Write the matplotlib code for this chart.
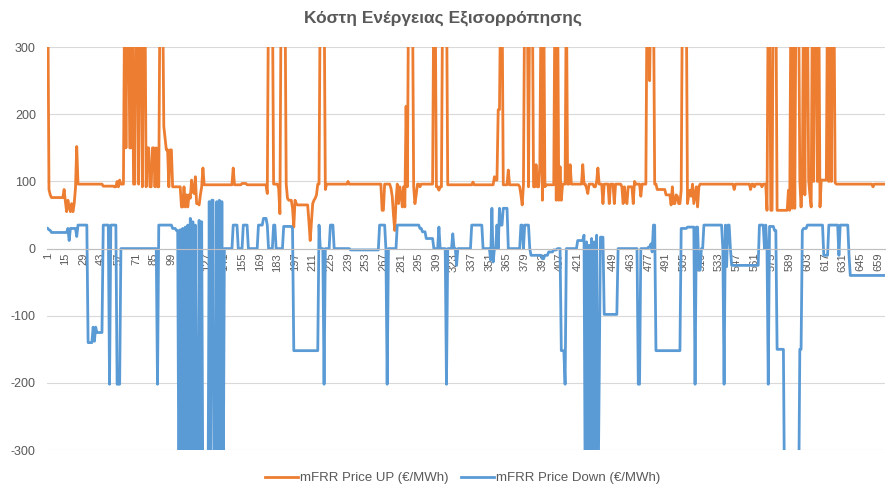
import numpy as np
import matplotlib.pyplot as plt

plt.rcParams['font.family'] = ['Liberation Sans', 'DejaVu Sans']
plt.rcParams['axes.unicode_minus'] = False

N = 664  # quarter-hour slots visible

# mFRR Price UP, run starts (slot index) and values
up_start = [1, 2, 3, 4, 14, 15, 16, 17, 18, 19, 20, 21, 22, 23, 24, 25, 45, 54, 56, 57, 58, 59,
            62, 63, 64, 66, 68, 69,
            71, 73, 74, 76, 77, 79, 80, 82, 84, 86, 87, 88,
            90, 93, 94, 95, 97, 98, 100,
            107, 109, 110, 111, 112, 113, 114, 115, 116, 117, 118, 119, 121, 122, 123, 124, 125,
            148, 149, 155, 159,
            175, 176, 180, 184, 185, 186, 190, 191, 192, 195, 196, 197, 198, 199, 208, 209, 210, 211,
            212, 213, 214, 215, 217, 221, 222, 239, 240,
            266, 268, 273, 274, 275, 276, 277, 278, 279, 280, 281, 282, 283, 284, 285, 286, 287, 291,
            292, 293, 294, 296, 297,
            307, 309, 311, 312, 314, 318, 338, 339,
            355, 356, 358, 360, 362, 366, 367, 375, 376, 377, 378, 379, 382, 383, 386, 388, 389, 391,
            392, 393, 394, 395, 396, 403, 404, 405, 406, 407, 408, 409,
            412, 413, 415, 416, 425, 426, 428, 429, 430, 434, 436, 437, 438, 441, 442, 446, 447, 450,
            451, 456, 457, 458, 459, 460, 461, 465, 466, 467, 471, 472,
            476, 478, 479, 482, 484, 491, 495, 496, 497, 499, 500, 501, 503, 504, 508, 509, 510, 511,
            512, 513, 514, 515, 516, 517, 518,
            545, 546, 558, 559, 561, 562, 567, 568, 571, 572, 574, 576, 579, 588, 589,
            590, 591, 592, 593, 594, 597, 598, 599, 600, 601, 602, 604, 605, 606, 607, 608, 609, 611,
            612, 613, 614, 619, 620, 621, 622, 623, 625, 626, 655, 656]
up_vals = [400, 88, 80, 76, 88, 70, 55, 72, 62, 55, 67, 55, 67, 90, 152, 96, 93, 92, 100, 92, 102, 96,
           400, 150, 400, 150, 400, 96,
           400, 96, 400, 92, 400, 92, 150, 92, 150, 92, 150, 92,
           400, 182, 165, 147, 92, 147, 92,
           62, 92, 62, 80, 62, 80, 75, 102, 85, 82, 107, 67, 65, 80, 92, 120, 95,
           120, 95, 97, 95,
           82, 400, 96, 90, 52, 400, 96, 75, 72, 60, 32, 72, 67, 65, 40, 12, 40, 67,
           72, 75, 80, 96, 400, 88, 96, 100, 96,
           57, 96, 90, 78, 50, 27, 70, 96, 67, 92, 80, 62, 92, 62, 212, 92, 400, 92,
           67, 80, 96, 92, 96,
           400, 92, 87, 92, 400, 95, 99, 95,
           107, 102, 207, 400, 95, 117, 95, 92, 80, 65, 95, 400, 92, 400, 92, 125, 92, 125,
           400, 72, 400, 92, 95, 400, 72, 400, 72, 122, 72, 96,
           400, 96, 125, 96, 125, 96, 90, 82, 96, 92, 100, 120, 96, 67, 96, 67, 96, 67,
           96, 92, 67, 92, 75, 67, 92, 67, 100, 96, 78, 96,
           400, 250, 400, 96, 88, 80, 65, 92, 67, 80, 78, 67, 87, 400, 67, 80, 87, 78,
           96, 67, 80, 92, 62, 92, 96,
           88, 96, 88, 96, 92, 96, 92, 96, 57, 400, 57, 400, 57, 87, 57,
           400, 60, 400, 60, 400, 102, 62, 102, 400, 80, 400, 102, 80, 62, 400, 100, 400, 100,
           400, 62, 102, 400, 100, 400, 100, 400, 98, 96, 92, 96]

# mFRR Price Down, run starts and values
down_start = [1, 2, 3, 4, 17, 18, 19, 24, 25, 33, 37, 38, 39, 40, 45, 50, 51, 56, 59, 88, 89, 100, 103,
              105, 106, 107, 108, 109, 110, 111, 112, 113, 114, 115, 116, 117, 118, 119, 121, 122,
              123, 124, 129, 130, 131, 133, 135, 136, 137, 138, 139, 140,
              141, 148, 152, 156, 160, 168, 172, 175, 176, 180, 182, 188, 195, 196, 216, 217, 220,
              221, 225, 228, 241, 264, 269, 270, 271, 278, 296, 298, 301, 307, 311, 312, 317, 318,
              322, 323, 325, 326, 337, 346, 352, 353, 354, 355, 357, 358, 359, 360, 362, 366, 376,
              378, 379, 383, 384, 393, 395, 398, 402, 405, 408, 411, 412, 421, 426,
              427, 428, 429, 430, 431, 432, 433, 434, 435, 436, 437, 438, 439, 442, 453, 469, 471,
              477, 479, 480, 481, 483, 503, 508, 514, 515, 517, 519, 521, 536, 537, 538, 539, 540,
              542, 543, 565, 569, 570, 571, 572, 573, 577, 579, 585, 597, 599, 600, 603, 616, 620,
              628, 629, 636, 637]
down_vals = [30, 28, 27, 24, 30, 12, 30, 18, 35, -140, -117, -138, -117, -125, 35, -202, 35, -202, 0,
             -202, 35, 30, 27,
             -400, 28, -400, 30, -400, 32, -400, 35, -400, 45, -400, 40, -400, 35, -400, 42, -400,
             40, -400, 70, -400, 72, -400, 70, -400, 72, -400, 70, -400,
             0, 35, 0, 35, 0, 35, 45, 35, 0, 35, 0, 33, 30, -152, 35, 0, -202,
             0, 35, 0, -2, 35, 0, -202, 0, 35, 30, 25, 15, 0, 32, 0, -202, 0,
             22, 0, -25, 0, 35, 0, -17, 60, -20, 0, 35, 0, 60, 35, 60, 0, 35,
             0, 35, 0, -10, -15, -10, -5, -2, 0, -152, -202, 0, 12, 20,
             -400, 10, -400, 5, -400, 15, -400, 10, -400, 20, -400, -202, 17, -98, 0, -202, 0,
             2, 7, -5, 35, -152, 30, 32, -202, 32, -32, 0, 35, 0, -202, 35, -27, 35,
             0, -25, 35, 0, 35, 0, -202, 33, 27, -150, -400, -150, 27, 30, 35, -10, 35,
             -10, 35, -10, -40]


def expand(starts, vals, n):
    edges = list(starts) + [n + 1]
    out = []
    for k, v in enumerate(vals):
        out += [v] * (edges[k + 1] - edges[k])
    return np.array(out, dtype=float)


up = expand(up_start, up_vals, N)
down = expand(down_start, down_vals, N)
x = np.arange(1, N + 1)

grey = '#595959'
fig = plt.figure(figsize=(8.86, 4.86), dpi=100)
ax = fig.add_axes([0.053, 0.074, 0.946, 0.829])

ax.plot(x, up, color='#ED7D31', lw=2.0, label='mFRR Price UP (€/MWh)', solid_joinstyle='round')
ax.plot(x, down, color='#5B9BD5', lw=2.0, label='mFRR Price Down (€/MWh)', solid_joinstyle='round')

ax.set_ylim(-300, 300)
ax.set_xlim(0.4, N + 0.6)
ax.set_yticks(np.arange(-300, 301, 100))
ax.grid(axis='y', color='#d9d9d9', lw=0.8)
ax.set_axisbelow(True)
for s in ['top', 'right', 'left']:
    ax.spines[s].set_visible(False)
ax.spines['bottom'].set_position(('data', 0))
ax.spines['bottom'].set_color('#bfbfbf')
ax.spines['bottom'].set_linewidth(0.8)

ticks = list(range(1, N + 1, 14))
ax.set_xticks(ticks)
ax.set_xticklabels([str(t) for t in ticks], rotation=90, fontsize=8, color=grey)
ax.tick_params(axis='x', length=0, pad=3)
ax.tick_params(axis='y', length=0, pad=8, labelsize=9, labelcolor=grey)

fig.text(0.5, 1 - 18 / 486, 'Κόστη Ενέργειας Εξισορρόπησης', ha='center', va='center',
         fontsize=12.5, fontweight='bold', color=grey)
fig.legend(loc='center', bbox_to_anchor=(0.522, 1 - 478 / 486), ncol=2, frameon=False,
           fontsize=9.5, labelcolor=grey, handlelength=2.5, columnspacing=1.0, handletextpad=0.15)

fig.savefig('out.png', dpi=100)
